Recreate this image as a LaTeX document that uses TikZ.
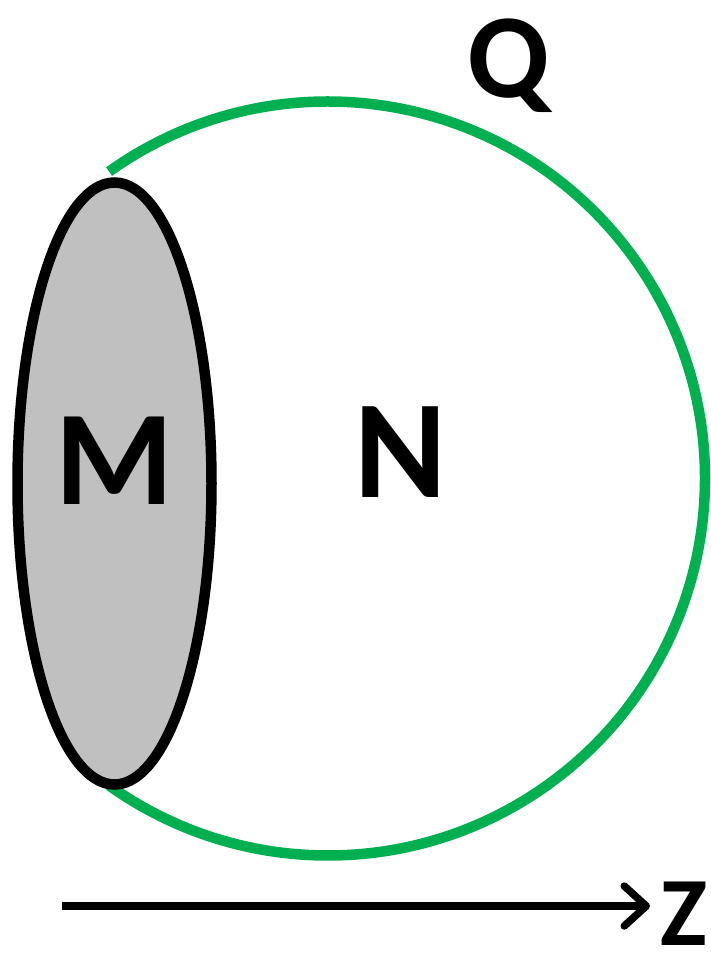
\documentclass[tikz,border=0pt]{standalone}
\usepackage{fontspec}
\setmainfont{Carlito}
\usetikzlibrary{arrows.meta}
\definecolor{qgreen}{HTML}{00B050}
\definecolor{mgray}{HTML}{C0C0C0}
\begin{document}
\begin{tikzpicture}[x=1pt,y=-1pt,
  lbl/.style={font=\bfseries\fontsize{#1}{#1}\selectfont, inner sep=0pt, anchor=base},
  greenarc/.style={draw=qgreen, line width=10.5pt},
  region/.style={draw=black, fill=mgray, line width=10.5pt},
  axis/.style={draw=black, line width=7.5pt, -{Straight Barb[length=22pt, width=40pt, round]}}]
\path[use as bounding box] (0,0) rectangle (711,954);
% green sphere outline
\draw[greenarc] (328,478.5) ++(-125.5:377) arc[start angle=-125.5, end angle=125.5, radius=377];
% grey region M
\draw[region] (114.5,483.5) ellipse [x radius=97, y radius=301];
\node[lbl=135] (M) at (114,504) {M};
\node[lbl=140] (N) at (401,497) {N};
\node[lbl=120] (Q) at (509,97) {Q};
\node[lbl=98] (Z) at (684,945) {Z};
\coordinate (start) at (62,906);
\coordinate (tip) at (650,906);
\draw[axis] (start) -- (tip);
\end{tikzpicture}
\end{document}
